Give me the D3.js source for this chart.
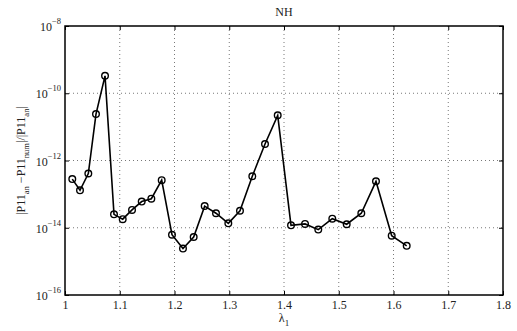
<!DOCTYPE html>
<html><head><meta charset="utf-8">
<script src="https://cdn.jsdelivr.net/npm/d3@7"></script>
<style>body{margin:0;background:#fff}svg{display:block}text{font-family:"Liberation Serif","Times New Roman",serif;fill:#222}</style>
</head><body>
<svg id="c" width="517" height="331"></svg>
<script>
const lambda = [1.0133,1.0274,1.0426,1.0566,1.0731,1.0895,1.1054,1.1224,1.1401,1.1577,
  1.1766,1.1954,1.2155,1.2350,1.2551,1.2758,1.2983,1.3196,1.3421,1.3653,
  1.3885,1.4128,1.4384,1.4626,1.4882,1.5145,1.5412,1.5680,1.5967,1.6241];
const relErr = [2.8e-13,1.3e-13,4.1e-13,2.4e-11,3.3e-10,2.5e-14,1.8e-14,3.4e-14,6.0e-14,7.3e-14,
  2.6e-13,6.2e-15,2.4e-15,5.3e-15,4.4e-14,2.7e-14,1.35e-14,3.2e-14,3.4e-13,3.1e-12,
  2.2e-11,1.18e-14,1.3e-14,8.8e-15,1.86e-14,1.27e-14,2.7e-14,2.4e-13,5.8e-15,2.9e-15];
const xTicks = [1,1.1,1.2,1.3,1.4,1.5,1.6,1.7,1.8];
const yTicks = [1e-16,1e-14,1e-12,1e-10,1e-8];
const yExp = ["−16","−14","−12","−10","−8"];

const L=65,R=503,T=26,B=295;
const svg=d3.select("#c");
const x=d3.scaleLinear().domain([1,1.8]).range([L,R]);
const y=d3.scaleLog().domain([1e-16,1e-8]).range([B,T]);

// grid
const g=svg.append("g");
g.selectAll(".gx").data(xTicks.slice(1,-1)).join("line")
 .attr("x1",d=>x(d)).attr("x2",d=>x(d)).attr("y1",T).attr("y2",B)
 .attr("stroke","#555").attr("stroke-width",0.8).attr("stroke-dasharray","1,3");
g.selectAll(".gy").data(yTicks.slice(1,-1)).join("line")
 .attr("y1",d=>y(d)).attr("y2",d=>y(d)).attr("x1",L).attr("x2",R)
 .attr("stroke","#555").attr("stroke-width",0.8).attr("stroke-dasharray","1,3");

// axes via d3 axis (ticks inside)
const ax=svg.append("g").attr("transform",`translate(0,${B})`)
 .call(d3.axisBottom(x).tickValues(xTicks).tickSize(-4).tickPadding(5).tickFormat(d3.format("~g")));
ax.select(".domain").remove();
ax.selectAll("line").attr("stroke","#000");
ax.selectAll("text").attr("font-size",12).attr("fill","#222").style("font-family",'"Liberation Serif",serif');
const axt=svg.append("g").attr("transform",`translate(0,${T})`)
 .call(d3.axisTop(x).tickValues(xTicks).tickSize(-4).tickFormat(""));
axt.select(".domain").remove(); axt.selectAll("line").attr("stroke","#000");

const ayl=svg.append("g").attr("transform",`translate(${L},0)`)
 .call(d3.axisLeft(y).tickValues(yTicks).tickSize(-4).tickFormat(""));
ayl.select(".domain").remove(); ayl.selectAll("line").attr("stroke","#000");
const ayr=svg.append("g").attr("transform",`translate(${R},0)`)
 .call(d3.axisRight(y).tickValues(yTicks).tickSize(-4).tickFormat(""));
ayr.select(".domain").remove(); ayr.selectAll("line").attr("stroke","#000");

// y tick labels with superscripts
const yl=svg.append("g");
yTicks.forEach((d,i)=>{
  const t=yl.append("text").attr("x",L-4).attr("y",y(d)+5).attr("text-anchor","end").attr("font-size",12);
  t.append("tspan").text("10");
  t.append("tspan").attr("dy",-7).attr("font-size",8.5).text(yExp[i]);
});

// frame
svg.append("rect").attr("x",L).attr("y",T).attr("width",R-L).attr("height",B-T)
 .attr("fill","none").attr("stroke","#000").attr("stroke-width",1.5);

// line + markers
svg.append("path").datum(lambda.map((l,i)=>[l,relErr[i]]))
 .attr("fill","none").attr("stroke","#000").attr("stroke-width",1.6)
 .attr("d",d3.line().x(d=>x(d[0])).y(d=>y(d[1])));
svg.append("g").selectAll("circle").data(lambda.map((l,i)=>[l,relErr[i]])).join("circle")
 .attr("cx",d=>x(d[0])).attr("cy",d=>y(d[1])).attr("r",3.3)
 .attr("fill","none").attr("stroke","#000").attr("stroke-width",1.4);

// title
svg.append("text").attr("x",(L+R)/2).attr("y",16).attr("text-anchor","middle").attr("font-size",12).text("NH");

// x label
const xl=svg.append("text").attr("x",(L+R)/2).attr("y",322).attr("text-anchor","middle").attr("font-size",12);
xl.append("tspan").text("λ");
xl.append("tspan").attr("dy",4).attr("font-size",9).text("1");

// y label
const ylab=svg.append("text").attr("transform",`translate(25,${(T+B)/2}) rotate(-90)`).attr("text-anchor","middle").attr("font-size",12);
ylab.append("tspan").text("|P11");
ylab.append("tspan").attr("dy",4).attr("font-size",8.5).text("an");
ylab.append("tspan").attr("dy",-4).text(" −P11");
ylab.append("tspan").attr("dy",4).attr("font-size",8.5).text("num");
ylab.append("tspan").attr("dy",-4).text("|/|P11");
ylab.append("tspan").attr("dy",4).attr("font-size",8.5).text("an");
ylab.append("tspan").attr("dy",-4).text("|");
</script>
</body></html>
